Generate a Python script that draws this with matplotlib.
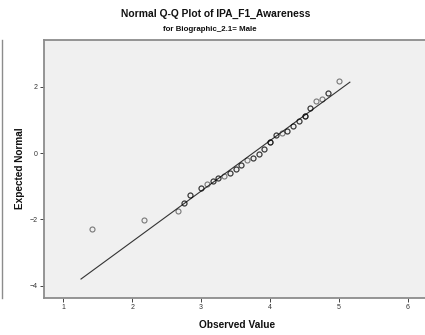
import matplotlib
matplotlib.use("Agg")
import matplotlib.pyplot as plt
from matplotlib.lines import Line2D

plt.rcParams["font.family"] = ["Liberation Sans", "DejaVu Sans"]

# observed scores, expected normal quantiles, and number of tied cases
observed = [1.417, 2.167, 2.667, 2.75, 2.833, 3.0, 3.083, 3.167, 3.25, 3.333,
            3.417, 3.5, 3.583, 3.667, 3.75, 3.833, 3.917, 4.0, 4.083, 4.167,
            4.25, 4.333, 4.417, 4.5, 4.583, 4.667, 4.75, 4.833, 5.0]
expected = [-2.28, -2.01, -1.76, -1.50, -1.25, -1.04, -0.94, -0.84, -0.74, -0.69,
            -0.59, -0.49, -0.35, -0.22, -0.14, -0.03, 0.11, 0.34, 0.55, 0.61,
            0.67, 0.83, 0.98, 1.12, 1.36, 1.56, 1.63, 1.81, 2.17]
ties = [1, 1, 1, 2, 2, 2, 1, 2, 2, 1,
        2, 2, 2, 1, 2, 2, 2, 3, 2, 1,
        2, 2, 2, 3, 2, 1, 1, 2, 1]

# reference line parameters
mean_val = 3.752
sd_val = 0.657
line_x = [1.257, 5.157]

x_ticks = [1, 2, 3, 4, 5, 6]
y_ticks = [-4, -2, 0, 2]

fig = plt.figure(figsize=(4.25, 3.35), dpi=100)
ax = fig.add_axes([0.1035, 0.1104, 0.91, 0.7702])
ax.set_facecolor("#f0f0f0")

line_y = [(x - mean_val) / sd_val for x in line_x]
ax.plot(line_x, line_y, color="#333333", linewidth=0.8, zorder=2)

# tied cases overlap, so stacking translucent rings darkens them
for x, y, n in zip(observed, expected, ties):
    for _ in range(n):
        ax.plot(x, y, marker="o", linestyle="none", markersize=3.6,
                markerfacecolor="none", markeredgecolor="#000000",
                markeredgewidth=0.8, alpha=0.5, zorder=3)

ax.set_xlim(0.72, 6.33)
ax.set_ylim(-4.37, 3.41)
ax.set_xticks(x_ticks)
ax.set_yticks(y_ticks)
ax.tick_params(axis="both", labelsize=5, length=3, width=0.7,
               color="#444444", labelcolor="#333333", pad=1.5)

for side in ["left", "bottom", "top"]:
    ax.spines[side].set_color("#8c8c8c")
    ax.spines[side].set_linewidth(1.3)
ax.spines["right"].set_visible(False)

fig.text(0.508, 0.958, "Normal Q-Q Plot of IPA_F1_Awareness", ha="center",
         va="center", fontsize=7.4, fontweight="bold", color="#111111")
fig.text(0.494, 0.913, "for Biographic_2.1= Male", ha="center",
         va="center", fontsize=5.7, fontweight="bold", color="#111111")
fig.text(0.047, 0.4985, "Expected Normal", ha="center", va="center",
         rotation=90, fontsize=7.2, fontweight="bold", color="#111111")
fig.text(0.558, 0.03, "Observed Value", ha="center", va="center",
         fontsize=7.3, fontweight="bold", color="#111111")

# edge of the neighbouring panel
fig.add_artist(Line2D([2 / 425, 2 / 425], [1 - 40 / 335, 1 - 298 / 335],
                      color="#8c8c8c", linewidth=1.0))

fig.savefig("out.png", dpi=100)
